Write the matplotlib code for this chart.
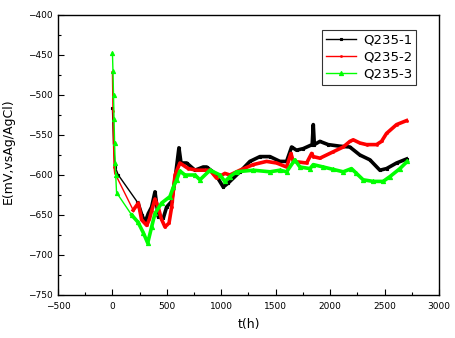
import numpy as np
import matplotlib
matplotlib.use("Agg")
import matplotlib.pyplot as plt
from matplotlib.ticker import MultipleLocator

# Q235-1 (black)
t1 = [0, 10, 25, 54, 235, 270, 300, 330, 360, 391, 421, 467, 498, 544, 580, 611, 630,
      682, 758, 834, 865, 942, 1018, 1064, 1171, 1263, 1355, 1447, 1539, 1600, 1646,
      1691, 1753, 1835, 1845, 1855, 1906, 1982, 2089, 2181, 2273, 2365, 2457, 2518,
      2610, 2702]
e1 = [-516, -560, -590, -600, -635, -650, -659, -648, -640, -621, -652, -654, -640,
      -633, -600, -566, -585, -585, -594, -590, -590, -598, -615, -610, -596, -583,
      -577, -577, -583, -583, -565, -569, -567, -562, -537, -562, -558, -562, -564,
      -565, -575, -581, -594, -592, -585, -580]

# Q235-2 (red)
t2 = [0, 5, 10, 15, 20, 191, 238, 268, 315, 340, 360, 391, 420, 450, 483, 520, 544,
      575, 620, 697, 773, 896, 957, 1033, 1079, 1171, 1293, 1416, 1508, 1600, 1640,
      1661, 1784, 1830, 1845, 1906, 2028, 2120, 2181, 2212, 2273, 2334, 2426, 2472,
      2518, 2610, 2702]
e2 = [-471, -520, -560, -590, -597, -644, -635, -656, -663, -655, -645, -630, -640,
      -655, -665, -660, -640, -600, -585, -592, -594, -594, -604, -598, -600, -594,
      -587, -583, -585, -590, -573, -583, -585, -573, -577, -579, -571, -565, -558,
      -556, -560, -562, -562, -558, -548, -537, -532]

# Q235-3 (green)
t3 = [0, 5, 10, 15, 20, 25, 30, 38, 177, 235, 283, 324, 360, 391, 452, 528, 560, 590,
      620, 666, 758, 804, 896, 988, 1033, 1079, 1141, 1293, 1447, 1539, 1600, 1676,
      1722, 1814, 1845, 1937, 2028, 2120, 2196, 2242, 2303, 2395, 2487, 2549, 2641,
      2708]
e3 = [-447, -470, -500, -530, -560, -585, -600, -622, -650, -659, -672, -685, -665,
      -648, -635, -627, -615, -606, -595, -600, -600, -606, -594, -600, -608, -602,
      -596, -594, -596, -594, -596, -581, -590, -592, -587, -590, -593, -596, -592,
      -598, -606, -608, -608, -602, -592, -583]

labels = ["Q235-1", "Q235-2", "Q235-3"]

fig = plt.figure(figsize=(4.56, 3.38), dpi=100)
ax = fig.add_axes([58/456, 1-295/338, (439-58)/456, (295-15)/338])

# thin line with markers for the sparse start, thicker line where data is dense
series = [(t1, e1, "black", "s", 1.5, 4),
          (t2, e2, "red", "s", 1.0, 5),
          (t3, e3, "#00ff00", "^", 3.0, 8)]
handles = []
for (t, e, c, m, ms, k), lab in zip(series, labels):
    h, = ax.plot(t, e, color=c, lw=1.0, marker=m, ms=ms, mew=0.8, label=lab)
    ax.plot(t[k:], e[k:], color=c, lw=2.6, solid_joinstyle="round")
    handles.append(h)

ax.set_xlim(-500, 3000)
ax.set_ylim(-750, -400)
ax.xaxis.set_major_locator(MultipleLocator(500))
ax.xaxis.set_minor_locator(MultipleLocator(250))
ax.yaxis.set_major_locator(MultipleLocator(50))
ax.yaxis.set_minor_locator(MultipleLocator(25))
ax.tick_params(which="both", direction="in", top=False, right=False,
               labelsize=6.5, width=0.8)
ax.tick_params(which="major", length=4.5)
ax.tick_params(which="minor", length=2.5)
ax.tick_params(axis="x", pad=5)
ax.tick_params(axis="y", pad=4)
for s in ax.spines.values():
    s.set_linewidth(1.0)

ax.set_xlabel("t(h)", fontsize=9, labelpad=5)
ax.set_ylabel("E(mV,vsAg/AgCl)", fontsize=9)
ax.yaxis.set_label_coords((15-58)/(439-58), (295-151)/(295-15))

leg = ax.legend(handles=handles, loc="upper left",
                bbox_to_anchor=(322/456, 1-30/338), bbox_transform=fig.transFigure,
                fontsize=9.5, frameon=True, fancybox=False, edgecolor="black",
                handlelength=2.3, handletextpad=0.5, labelspacing=0.3,
                borderpad=0.3, numpoints=1, borderaxespad=0)
leg.get_frame().set_linewidth(0.8)

fig.savefig("out.png", dpi=100)
